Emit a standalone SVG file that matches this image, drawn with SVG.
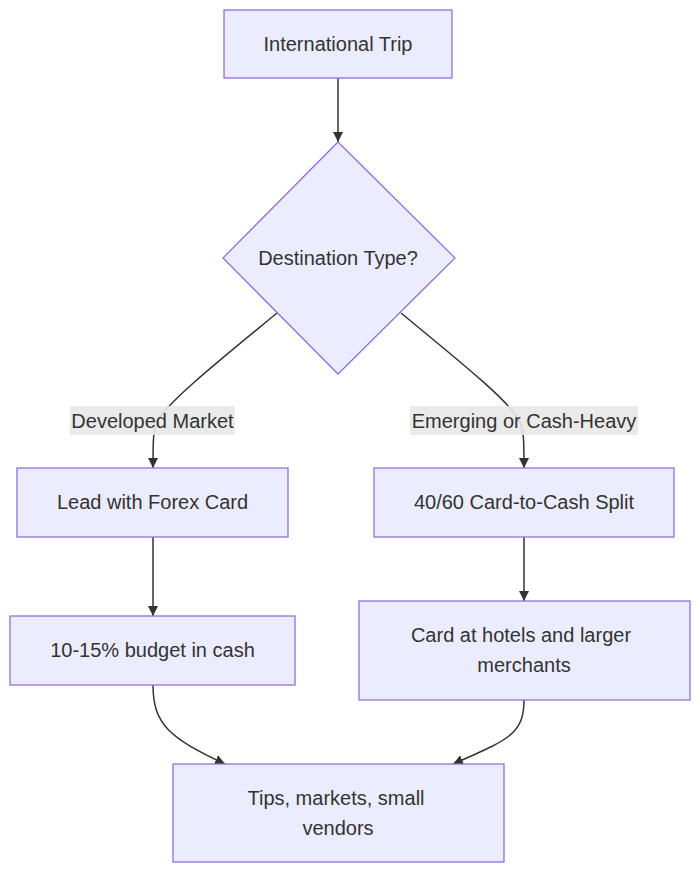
<svg xmlns="http://www.w3.org/2000/svg" width="700" height="873" viewBox="0 0 700 873">
<style>
.node rect, .node polygon { fill: #ECECFF; stroke: #9370DB; stroke-width: 1.3; }
text { font-family: "Liberation Sans", Arial, sans-serif; font-size: 20px; fill: #333333; text-anchor: middle; dominant-baseline: central; }
.edge { fill: none; stroke: #333333; stroke-width: 1.5; }
.lbl rect { fill: #E8E8E8; opacity: 0.9; }
</style>
<defs>
<marker id="arrow" viewBox="0 0 10 10" refX="10" refY="5" markerUnits="userSpaceOnUse" markerWidth="10" markerHeight="10" orient="auto">
<path d="M0,0 L10,5 L0,10 z" fill="#333333"/>
</marker>
</defs>
<rect width="700" height="873" fill="#ffffff"/>
<g id="connectors">
<path class="edge" d="M338,78 L338,142" marker-end="url(#arrow)"/>
<path class="edge" d="M277,313 C220,360 170,400 158,420 C153,430 153,440 153,468" marker-end="url(#arrow)"/>
<path class="edge" d="M401,313 C458,360 508,400 519,420 C524,430 524,440 524,468" marker-end="url(#arrow)"/>
<path class="edge" d="M153,537 L153,616" marker-end="url(#arrow)"/>
<path class="edge" d="M524,537 L524,601" marker-end="url(#arrow)"/>
<path class="edge" d="M153,685 C153,725 170,738 225,764" marker-end="url(#arrow)"/>
<path class="edge" d="M524,700 C524,735 507,740 453,764" marker-end="url(#arrow)"/>
<g class="lbl"><rect x="70" y="406" width="165" height="29"/><text x="152.5" y="420.5">Developed Market</text></g>
<g class="lbl"><rect x="410" y="406" width="228" height="29"/><text x="524" y="420.5">Emerging or Cash-Heavy</text></g>
</g>
<g id="trip" class="node"><rect x="224" y="10" width="228" height="68"/><text x="338" y="44">International Trip</text></g>
<g id="dest" class="node"><polygon points="338,142 455,258 338,374 223,258"/><text x="338" y="258">Destination Type?</text></g>
<g id="forex" class="node"><rect x="17" y="468" width="271" height="69"/><text x="152.5" y="502">Lead with Forex Card</text></g>
<g id="split" class="node"><rect x="374" y="468" width="300" height="69"/><text x="524" y="502">40/60 Card-to-Cash Split</text></g>
<g id="budget" class="node"><rect x="10" y="616" width="285" height="69"/><text x="152.5" y="650">10-15% budget in cash</text></g>
<g id="hotels" class="node"><rect x="359" y="601" width="331" height="99"/><text x="521" y="635">Card at hotels and larger</text><text x="524" y="665">merchants</text></g>
<g id="tips" class="node"><rect x="173" y="764" width="331" height="98"/><text x="336" y="798">Tips, markets, small</text><text x="338" y="828">vendors</text></g>
</svg>
